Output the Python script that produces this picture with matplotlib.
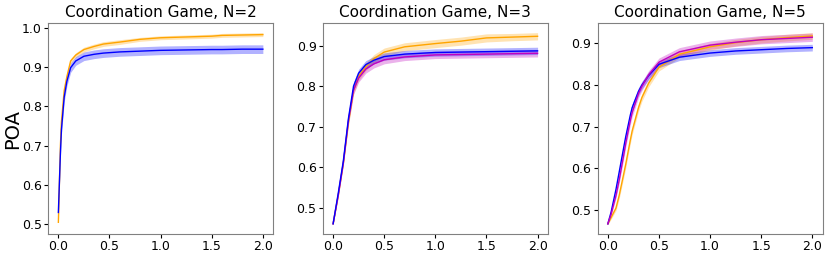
import numpy as np
import matplotlib.pyplot as plt

# x positions where values were read
x2 = [0.0, 0.02, 0.03, 0.057, 0.083, 0.12, 0.17, 0.25, 0.35, 0.44, 0.6, 0.8, 1.0, 1.25, 1.5, 1.6, 1.8, 2.0]
blue2 = [0.53, 0.68, 0.74, 0.823, 0.863, 0.898, 0.915, 0.927, 0.932, 0.935, 0.938, 0.940, 0.942, 0.943, 0.944, 0.944, 0.945, 0.945]
blue2_err = [0.004, 0.01, 0.012, 0.012, 0.012, 0.012, 0.011, 0.011, 0.011, 0.011, 0.011, 0.011, 0.011, 0.011, 0.011, 0.011, 0.011, 0.011]
orange2 = [0.505, 0.70, 0.76, 0.84, 0.875, 0.915, 0.930, 0.944, 0.952, 0.958, 0.963, 0.970, 0.974, 0.976, 0.978, 0.980, 0.981, 0.982]
orange2_err = [0.006, 0.01, 0.008, 0.008, 0.007, 0.006, 0.006, 0.006, 0.006, 0.006, 0.006, 0.005, 0.005, 0.005, 0.005, 0.005, 0.005, 0.005]

x3 = [0.0, 0.05, 0.1, 0.15, 0.2, 0.25, 0.32, 0.4, 0.5, 0.7, 1.0, 1.25, 1.5, 1.75, 2.0]
blue3 = [0.46, 0.535, 0.615, 0.72, 0.80, 0.832, 0.853, 0.864, 0.873, 0.879, 0.883, 0.884, 0.885, 0.886, 0.887]
purple3 = [0.46, 0.53, 0.61, 0.715, 0.79, 0.82, 0.842, 0.855, 0.865, 0.872, 0.877, 0.878, 0.879, 0.880, 0.881]
orange3 = [0.46, 0.53, 0.61, 0.71, 0.79, 0.824, 0.848, 0.868, 0.884, 0.897, 0.905, 0.911, 0.919, 0.921, 0.923]
blue3_err = [0.002, 0.004, 0.006, 0.008, 0.01, 0.01, 0.01, 0.009, 0.009, 0.009, 0.009, 0.009, 0.009, 0.009, 0.009]
purple3_err = [0.002, 0.004, 0.006, 0.008, 0.01, 0.01, 0.01, 0.01, 0.01, 0.009, 0.009, 0.009, 0.009, 0.009, 0.009]
orange3_err = [0.002, 0.004, 0.006, 0.008, 0.01, 0.01, 0.01, 0.01, 0.01, 0.01, 0.01, 0.01, 0.01, 0.009, 0.009]

x5 = [0.0, 0.032, 0.08, 0.111, 0.159, 0.175, 0.22, 0.238, 0.3, 0.333, 0.4, 0.5, 0.7, 1.0, 1.25, 1.5, 1.75, 2.0]
blue5 = [0.467, 0.495, 0.55, 0.591, 0.655, 0.676, 0.728, 0.746, 0.785, 0.80, 0.823, 0.850, 0.867, 0.877, 0.882, 0.885, 0.888, 0.890]
purple5 = [0.467, 0.49, 0.535, 0.572, 0.637, 0.66, 0.715, 0.734, 0.78, 0.797, 0.825, 0.855, 0.880, 0.896, 0.903, 0.909, 0.912, 0.915]
orange5 = [0.467, 0.482, 0.505, 0.535, 0.591, 0.61, 0.668, 0.69, 0.746, 0.77, 0.805, 0.843, 0.874, 0.892, 0.902, 0.909, 0.914, 0.918]
blue5_err = [0.002, 0.004, 0.006, 0.008, 0.009, 0.009, 0.009, 0.009, 0.009, 0.009, 0.009, 0.008, 0.008, 0.008, 0.008, 0.008, 0.008, 0.008]
purple5_err = [0.002, 0.004, 0.006, 0.008, 0.009, 0.009, 0.01, 0.01, 0.01, 0.01, 0.01, 0.01, 0.01, 0.01, 0.01, 0.01, 0.01, 0.01]
orange5_err = [0.002, 0.004, 0.006, 0.008, 0.009, 0.009, 0.009, 0.009, 0.009, 0.009, 0.009, 0.009, 0.008, 0.008, 0.008, 0.008, 0.008, 0.008]

titles = ['Coordination Game, N=2', 'Coordination Game, N=3', 'Coordination Game, N=5']

panels = [
    (x2, [(orange2, orange2_err, 'orange'), (blue2, blue2_err, 'blue')]),
    (x3, [(orange3, orange3_err, 'orange'), (purple3, purple3_err, 'm'), (blue3, blue3_err, 'blue')]),
    (x5, [(orange5, orange5_err, 'orange'), (blue5, blue5_err, 'blue'), (purple5, purple5_err, 'm')]),
]

fig = plt.figure(figsize=(8.3, 2.56), dpi=100)
lefts = [0.058, 0.389, 0.720]
width = 0.271

for i, (left, title, (xs, series)) in enumerate(zip(lefts, titles, panels)):
    ax = fig.add_axes([left, 0.085, width, 0.825])
    for y, err, c in series:
        y = np.array(y)
        err = np.array(err)
        ax.fill_between(xs, y - err, y + err, color=c, alpha=0.3, linewidth=0)
        ax.plot(xs, y, color=c, linewidth=1)
    ax.set_title(title, fontsize=11, pad=4)
    ax.tick_params(labelsize=9, length=3, pad=1.5)
    ax.set_xticks([0.0, 0.5, 1.0, 1.5, 2.0])
    for s in ax.spines.values():
        s.set_color('grey')
    if i == 0:
        ax.set_ylabel('POA', fontsize=14, labelpad=0)

fig.savefig('out.png', dpi=100)
